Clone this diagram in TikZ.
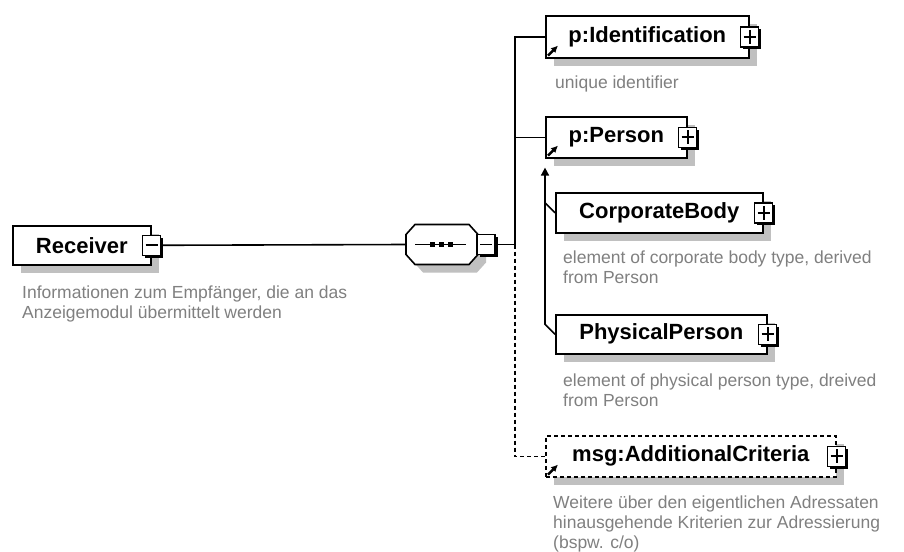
\documentclass[tikz,border=0pt]{standalone}
\usepackage{fontspec}
\setmainfont{Liberation Sans}
\usetikzlibrary{shadows,arrows.meta}
\definecolor{shgray}{RGB}{192,192,192}
\definecolor{anngray}{RGB}{128,128,128}
\begin{document}
\begin{tikzpicture}[x=1pt,y=-1pt,
  conn/.style={line width=1.6pt},
  elem/.style={draw, line width=1.6pt, fill=white, anchor=north west, inner sep=0pt,
    font=\fontsize{22}{26}\selectfont\bfseries,
    drop shadow={shadow xshift=8pt,shadow yshift=-8pt,fill=shgray,opacity=1}},
  pm/.style={draw, line width=1.6pt, fill=white, minimum width=18pt, minimum height=20pt, inner sep=0pt,
    drop shadow={shadow xshift=2.5pt,shadow yshift=-2.5pt,fill=black,opacity=1}},
  minusbox/.style={pm, path picture={
    \draw[black, line width=1.8pt] ([xshift=3pt]path picture bounding box.west) -- ([xshift=-3pt]path picture bounding box.east);}},
  plusbox/.style={pm, path picture={
    \draw[black, line width=1.8pt] ([xshift=3pt]path picture bounding box.west) -- ([xshift=-3pt]path picture bounding box.east);
    \draw[black, line width=1.8pt] ([yshift=-3pt]path picture bounding box.north) -- ([yshift=3pt]path picture bounding box.south);}},
  compbox/.style={rectangle, minimum width=72pt, minimum height=40pt, inner sep=0pt},
  octa/.style={line width=1.6pt},
  ann/.style={anchor=north west, inner sep=0pt, align=left, text=anngray,
    font=\fontsize{17.5}{20}\selectfont},
  refarr/.style={-{Latex[length=7pt,width=7pt]}, line width=2.4pt},
  dsh/.style={dash pattern=on 4pt off 3pt}
]
\fill[white] (0,0) rectangle (904,551);
\useasboundingbox (0,0) rectangle (904,551);

% Receiver
\node[elem, minimum width=138pt, minimum height=39pt] (rec) at (12,225) {Receiver\hspace{7pt}};
\node[minusbox] (recpm) at (rec.east) {};
\node[ann] (recann) at ([xshift=10pt,yshift=-20pt]rec.south west)
  {Informationen zum Empfänger, die an das\\Anzeigemodul übermittelt werden};

% sequence compositor (octagon drawn around an invisible node)
\fill[shgray, shift={(8,8)}] (406,234.5) -- (415,224.5) -- (469,224.5) -- (478,234.5) -- (478,254.5) -- (469,264.5) -- (415,264.5) -- (406,254.5) -- cycle;
\draw[octa, fill=white] (406,234.5) -- (415,224.5) -- (469,224.5) -- (478,234.5) -- (478,254.5) -- (469,264.5) -- (415,264.5) -- (406,254.5) -- cycle;
\node[compbox] (comp) at (442,244.5) {};
\draw[line width=1.6pt] ([xshift=-27pt]comp.center) -- ([xshift=24pt]comp.center);
\foreach \dx in {-10,-1,8}
  \fill[black] ([xshift=\dx pt-2.5pt,yshift=-2.5pt]comp.center) rectangle ++(5pt,5pt);
\node[minusbox] (comppm) at ([xshift=8pt]comp.east) {};
\coordinate (trunk) at (515,244.5);

% children
\node[elem, minimum width=203pt, minimum height=42pt] (pid) at (545,15) {p:Identification\hspace{7pt}};
\node[plusbox] (pidpm) at (pid.east) {};
\node[ann] (pidann) at ([xshift=10pt,yshift=-17pt]pid.south west) {unique identifier};

\node[elem, minimum width=141pt, minimum height=41pt] (pper) at (545,116) {p:Person\hspace{7pt}};
\node[plusbox] (pperpm) at (pper.east) {};

\node[elem, minimum width=207pt, minimum height=40pt] (corp) at (555,192) {CorporateBody\hspace{7pt}};
\node[plusbox] (corppm) at (corp.east) {};
\node[ann] (corpann) at ([xshift=8pt,yshift=-17pt]corp.south west)
  {element of corporate body type, derived\\from Person};

\node[elem, minimum width=211pt, minimum height=39pt] (phys) at (555,314) {PhysicalPerson\hspace{7pt}};
\node[plusbox] (physpm) at (phys.east) {};
\node[ann] (physann) at ([xshift=8pt,yshift=-19pt]phys.south west)
  {element of physical person type, dreived\\from Person};

\node[elem, dsh, minimum width=290pt, minimum height=41pt] (msg) at (545,435) {msg:AdditionalCriteria\hspace{7pt}};
\node[plusbox] (msgpm) at (msg.east) {};
\node[ann] (msgann) at ([xshift=8pt,yshift=-18pt]msg.south west)
  {Weitere über den eigentlichen Adressaten\\hinausgehende Kriterien zur Adressierung\\(bspw. c/o)};

% connectors
\draw[conn] (recpm) -- ([xshift=-36pt]comp.center);
\draw[conn] (comppm) -- (trunk);
\draw[conn] (trunk) |- (pid.west);
\draw[conn] (trunk) |- (pper.west);
\draw[conn, dsh] (trunk) |- (msg.west);
\draw[conn, -{Triangle[length=8pt,width=8pt]}] (phys.west) -- ++(-10pt,10pt) -- ([yshift=-9pt]pper.south west);
\draw[conn] (corp.west) -- ++(-10pt,10pt);

% reference arrows
\draw[refarr] ([xshift=3pt,yshift=3pt]pid.south west) -- ++(10pt,10pt);
\draw[refarr] ([xshift=3pt,yshift=3pt]pper.south west) -- ++(10pt,10pt);
\draw[refarr] ([xshift=3pt,yshift=3pt]msg.south west) -- ++(10pt,10pt);
\end{tikzpicture}
\end{document}
